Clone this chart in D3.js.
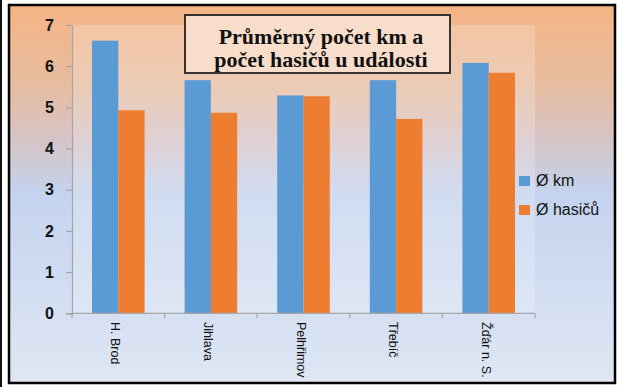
<!DOCTYPE html>
<html>
<head>
<meta charset="utf-8">
<script src="https://cdn.jsdelivr.net/npm/d3@7"></script>
<style>
  html, body { margin: 0; padding: 0; background: #fff; }
  svg { display: block; }
</style>
</head>
<body>
<svg id="chart" width="619" height="387"></svg>
<script>
// Average distance (km) and average number of firefighters per incident, by district
const categories = ["H. Brod", "Jihlava", "Pelhřimov", "Třebíč", "Žďár n. S."];
const seriesNames = ["Ø km", "Ø hasičů"];
const kmValues = [6.62, 5.66, 5.29, 5.66, 6.08];
const hasiciValues = [4.93, 4.87, 5.27, 4.72, 5.84];
const yTicks = [0, 1, 2, 3, 4, 5, 6, 7];
const titleLines = ["Průměrný počet km a", "počet hasičů u události"];
const colors = ["#5B9BD5", "#ED7D31"];

const svg = d3.select("#chart");
const W = 619, H = 387;

// Frame background gradient: peach at the top fading to light blue
const defs = svg.append("defs");
const grad = defs.append("linearGradient")
  .attr("id", "bg").attr("x1", 0).attr("y1", 0).attr("x2", 0).attr("y2", 1);
grad.append("stop").attr("offset", "0%").attr("stop-color", "#F5B484");
grad.append("stop").attr("offset", "22%").attr("stop-color", "#E6BDA2");
grad.append("stop").attr("offset", "36%").attr("stop-color", "#D6C4C8");
grad.append("stop").attr("offset", "50%").attr("stop-color", "#C4D3EE");
grad.append("stop").attr("offset", "100%").attr("stop-color", "#DFE7F4");

// thin dark line at the very left edge
svg.append("rect").attr("x", 0).attr("y", 0).attr("width", 2).attr("height", H).attr("fill", "#111");

svg.append("rect")
  .attr("x", 9).attr("y", 5).attr("width", 606).attr("height", 378)
  .attr("fill", "url(#bg)")
  .attr("stroke", "#000").attr("stroke-width", 2.5);

const plot = { left: 72, right: 535, top: 25, bottom: 313.3 };

const y = d3.scaleLinear().domain([0, 7]).range([plot.bottom, plot.top]);
const x0 = d3.scaleBand().domain(categories).range([plot.left, plot.right]).padding(0);
const bw = x0.bandwidth();
const x1 = d3.scaleBand().domain(seriesNames).range([bw * 0.216, bw * 0.784]).padding(0);

// plot area: light translucent fill
svg.append("rect")
  .attr("x", plot.left).attr("y", plot.top)
  .attr("width", plot.right - plot.left).attr("height", plot.bottom - plot.top)
  .attr("fill", "#fff").attr("fill-opacity", 0.22);

// bars
const rows = categories.map((c, i) => ({ cat: c, vals: [kmValues[i], hasiciValues[i]] }));
const groups = svg.append("g").selectAll("g").data(rows).join("g")
  .attr("transform", d => `translate(${x0(d.cat)},0)`);
groups.selectAll("rect")
  .data(d => d.vals.map((v, j) => ({ name: seriesNames[j], v, j })))
  .join("rect")
  .attr("x", d => x1(d.name))
  .attr("y", d => y(d.v))
  .attr("width", x1.bandwidth())
  .attr("height", d => y(0) - y(d.v))
  .attr("fill", d => colors[d.j]);

// y axis
const yAxis = d3.axisLeft(y).tickValues(yTicks).tickSize(6).tickPadding(12).tickFormat(d3.format("d"));
const gy = svg.append("g").attr("transform", `translate(${plot.left},0)`).call(yAxis);
gy.select(".domain").attr("stroke", "#A6A6A6").attr("stroke-width", 1.2);
gy.selectAll(".tick line").attr("stroke", "#A6A6A6").attr("stroke-width", 1.2);
gy.selectAll(".tick text")
  .attr("font-family", "'Liberation Sans', Arial, sans-serif")
  .attr("font-weight", "bold").attr("font-size", 16).attr("fill", "#111");

// x axis: ticks at category boundaries
const gx = svg.append("g").attr("transform", `translate(0,${plot.bottom})`);
gx.append("line").attr("x1", plot.left).attr("x2", plot.right)
  .attr("stroke", "#A6A6A6").attr("stroke-width", 1.2);
const bounds = categories.map(c => x0(c)).concat([plot.right]);
gx.selectAll("line.tk").data(bounds).join("line").attr("class", "tk")
  .attr("x1", d => d).attr("x2", d => d).attr("y1", 0).attr("y2", 5)
  .attr("stroke", "#A6A6A6").attr("stroke-width", 1.2);
gx.selectAll("text").data(categories).join("text")
  .attr("transform", d => `translate(${x0(d) + bw / 2 - 7},${322 - plot.bottom}) rotate(90)`)
  .attr("font-family", "'Liberation Sans', Arial, sans-serif")
  .attr("font-size", 12.5).attr("fill", "#111")
  .attr("text-anchor", "start")
  .text(d => d);

// legend
const legend = svg.append("g").selectAll("g").data(seriesNames).join("g")
  .attr("transform", (d, i) => `translate(519,${176 + i * 29})`);
legend.append("rect").attr("width", 11).attr("height", 10).attr("fill", (d, i) => colors[i]);
legend.append("text").attr("x", 17).attr("y", 10)
  .attr("font-family", "'Liberation Sans', Arial, sans-serif")
  .attr("font-size", 16).attr("fill", "#111")
  .text(d => d);

// title box
svg.append("rect")
  .attr("x", 185).attr("y", 15).attr("width", 265).attr("height", 58)
  .attr("fill", "#F8DDCB").attr("stroke", "#222").attr("stroke-width", 1.8);
svg.append("g").selectAll("text").data(titleLines).join("text")
  .attr("x", 321).attr("y", (d, i) => 44 + i * 23)
  .attr("text-anchor", "middle")
  .attr("font-family", "'Liberation Serif', 'Times New Roman', serif")
  .attr("font-weight", "bold").attr("font-size", 22).attr("fill", "#111")
  .text(d => d);
</script>
</body>
</html>
